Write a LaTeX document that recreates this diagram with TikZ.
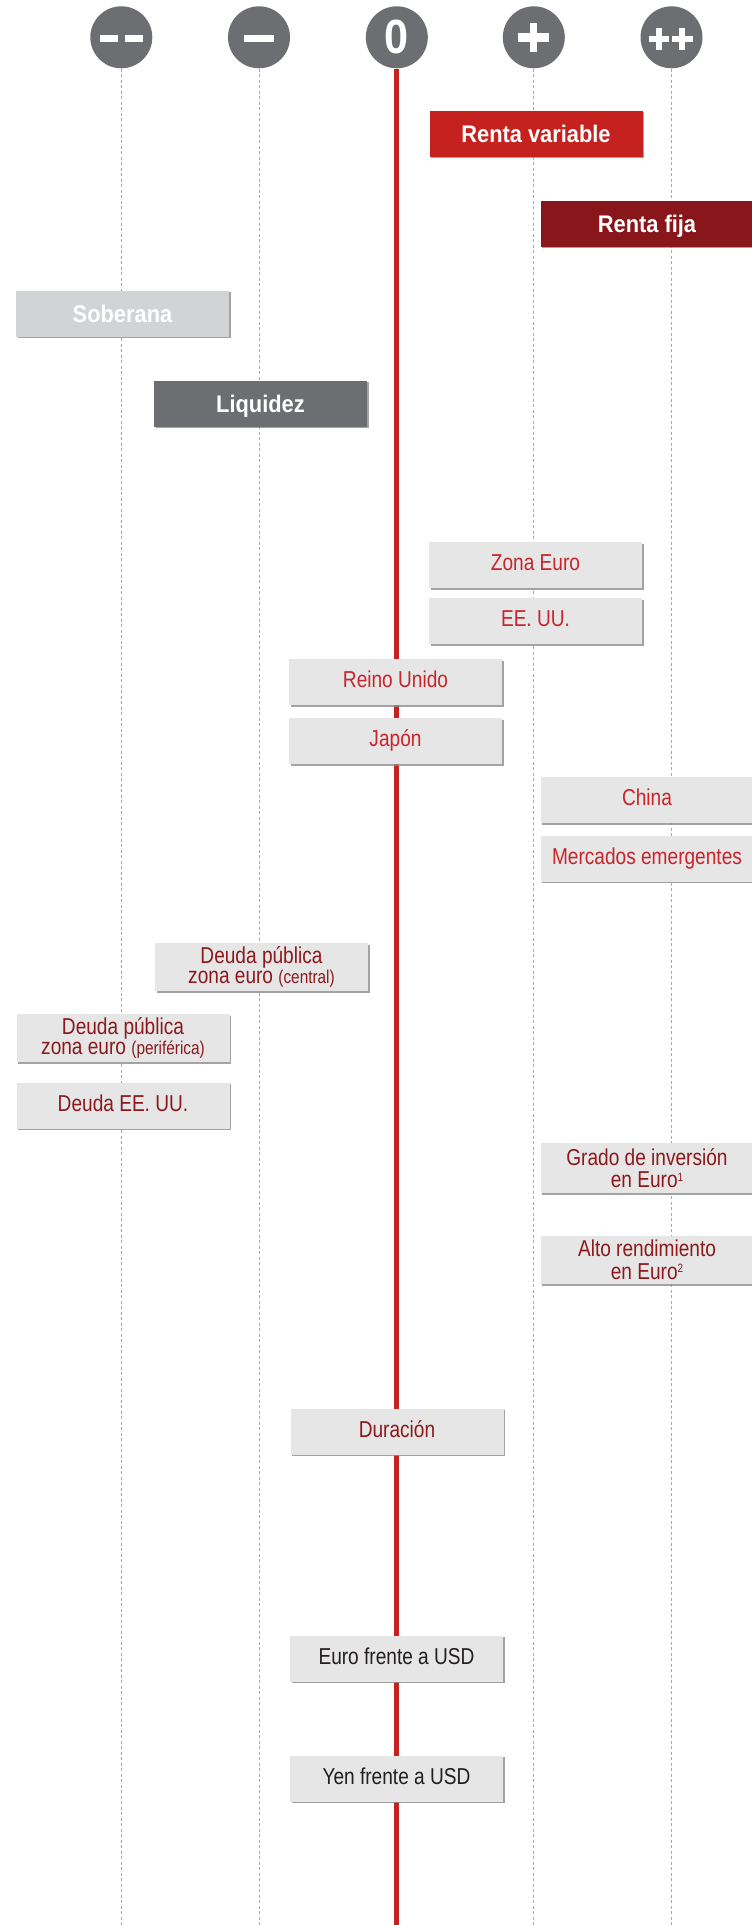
\documentclass[tikz,border=0pt]{standalone}
\usepackage{fontspec}
\setmainfont{Liberation Sans}[FakeStretch=0.83]
\newfontfamily\bcond{Liberation Sans}[FakeStretch=0.91]
\newfontfamily\zcond{Liberation Sans}[FakeStretch=0.9]
\usetikzlibrary{shadows}
\definecolor{cred}{HTML}{C5221F}
\definecolor{cdark}{HTML}{88161A}
\definecolor{cgrayl}{HTML}{D1D3D4}
\definecolor{cgrayd}{HTML}{6D6E71}
\definecolor{boxgray}{HTML}{E6E6E6}
\definecolor{txtred}{HTML}{C8242B}
\definecolor{txtdark}{HTML}{8B1A1D}
\definecolor{txtblack}{HTML}{231F20}
\definecolor{dashgray}{HTML}{A7A9AC}
\newcommand{\regf}{\fontsize{23}{20.5}\selectfont}
\newcommand{\regwf}{\fontsize{23}{22.5}\selectfont}
\newcommand{\smallf}{\fontsize{18.5}{20.5}\selectfont}
\newcommand{\boldf}{\bcond\bfseries\fontsize{24}{24}\selectfont}
\newcommand{\supnum}[1]{\raisebox{6.5pt}{\fontsize{12}{12}\selectfont #1}}
\tikzset{
  shadowed/.style={drop shadow={shadow xshift=1.5pt, shadow yshift=-1.8pt, fill=black!45, opacity=0.8}},
  boxbase/.style={minimum width=213pt, minimum height=46pt, inner sep=0pt, shadowed, align=center},
  catbox/.style={boxbase, font=\boldf, text=white, text height=17pt, text depth=0pt},
  itembox/.style={boxbase, fill=boxgray, font=\regf, text height=16.5pt, text depth=5pt},
  twobox/.style={boxbase, fill=boxgray, font=\regf, minimum height=48pt},
  circ/.style={circle, fill=cgrayd, minimum size=62pt, inner sep=0pt},
  guide/.style={dashgray, line width=1pt, dash pattern=on 3pt off 2.5pt},
  zeroline/.style={cred, line width=5.3pt},
  bar/.style={fill=white, draw=none}
}
\begin{document}
\begin{tikzpicture}[x=1pt,y=-1pt]
\useasboundingbox (0,0) rectangle (752,1925);
% circles
\node[circ] (cmm) at (121.3,37.3) {};
\node[circ] (cm) at (259,37.3) {};
\node[circ, text=white, font=\zcond\bfseries\fontsize{48}{48}\selectfont] (cz) at (396.8,37.3) {0};
\node[circ] (cp) at (533.8,37.3) {};
\node[circ] (cpp) at (671.5,37.3) {};
% bottom coordinates
\coordinate (bmm) at (121.3,1925);
\coordinate (bm) at (259,1925);
\coordinate (bz) at (396.8,1925);
\coordinate (bp) at (533.8,1925);
\coordinate (bpp) at (671.5,1925);
% guide lines
\draw[guide] (cmm.south) -- (bmm);
\draw[guide] (cm.south) -- (bm);
\draw[guide] (cp.south) -- (bp);
\draw[guide] (cpp.south) -- (bpp);
\draw[zeroline] (cz.south) -- (bz);
% symbols
\fill[bar] (100.2,34.7) rectangle (118,42);
\fill[bar] (125,34.7) rectangle (142.8,42);
\fill[bar] (243.5,34.7) rectangle (274.2,42);
\fill[bar] (518,32.6) rectangle (549,41.6);
\fill[bar] (529.6,22.7) rectangle (537.4,51.7);
\fill[bar] (648.6,36.2) rectangle (669.4,41.8);
\fill[bar] (656,28.4) rectangle (662,49.8);
\fill[bar] (671.8,36.2) rectangle (692.8,41.8);
\fill[bar] (679.3,28.4) rectangle (685.3,49.8);
% category boxes
\node[catbox, fill=cred] (rv) at (536,133.5) {Renta variable};
\node[catbox, fill=cdark] (rf) at (647,223.5) {Renta fija};
\node[catbox, fill=cgrayl] (sob) at (122.5,313.5) {Soberana};
\node[catbox, fill=cgrayd] (liq) at (260.5,403.5) {Liquidez};
% equity regions
\node[itembox, text=txtred] (ze) at (535.5,565) {Zona Euro};
\node[itembox, text=txtred] (eeuu) at (535.5,621) {EE. UU.};
\node[itembox, text=txtred] (ru) at (395.5,682) {Reino Unido};
\node[itembox, text=txtred] (jp) at (395.5,741) {Japón};
\node[itembox, text=txtred] (cn) at (647,800) {China};
\node[itembox, text=txtred] (me) at (647,858.5) {Mercados emergentes};
% fixed income
\node[twobox, text=txtdark] (dpc) at (261.5,967) {Deuda pública\\zona euro {\smallf(central)}};
\node[twobox, text=txtdark] (dpp) at (123,1038) {Deuda pública\\zona euro {\smallf(periférica)}};
\node[itembox, text=txtdark] (deu) at (123,1105.5) {Deuda EE. UU.};
\node[twobox, text=txtdark, font=\regwf, minimum height=50pt] (gi) at (647,1168) {Grado de inversión\\en Euro\supnum{1}};
\node[twobox, text=txtdark, font=\regwf] (ar) at (647,1260) {Alto rendimiento\\en Euro\supnum{2}};
\node[itembox, text=txtdark] (dur) at (397,1431.5) {Duración};
% currencies
\node[itembox, text=txtblack] (eur) at (396.5,1658.5) {Euro frente a USD};
\node[itembox, text=txtblack] (yen) at (396.5,1778.5) {Yen frente a USD};
\end{tikzpicture}
\end{document}
